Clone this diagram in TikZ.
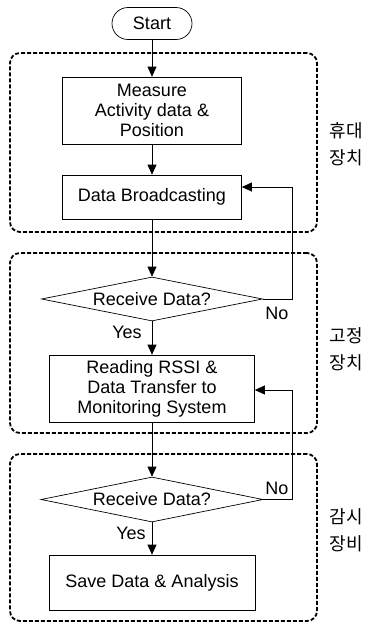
\documentclass[tikz,border=0pt]{standalone}
\usepackage{fontspec}
\setmainfont{Liberation Sans}
\newfontfamily\krfont{Noto Sans CJK KR}
\usetikzlibrary{shapes.geometric,arrows.meta}
\begin{document}
\begin{tikzpicture}[x=1pt,y=-1pt,
  font=\fontsize{18pt}{20pt}\selectfont,
  box/.style={draw, line width=0.7pt, inner sep=0pt, align=center},
  dec/.style={draw, diamond, line width=0.7pt, inner sep=0pt, aspect=5},
  grp/.style={draw, line width=1.8pt, dash pattern=on 4pt off 2pt, rounded corners=10pt, inner sep=0pt},
  arr/.style={line width=0.7pt, -{Triangle[length=10pt,width=9pt]}},
  lab/.style={inner sep=0pt},
  krlab/.style={inner sep=0pt, align=center, font=\krfont\fontsize{18pt}{27pt}\selectfont},
]
\useasboundingbox (0,0) rectangle (372,625);
% groups
\node[grp, minimum width=307pt, minimum height=179pt] (g1) at (163.5,142.5) {};
\node[grp, minimum width=307pt, minimum height=180pt] (g2) at (163.5,343) {};
\node[grp, minimum width=307pt, minimum height=167pt] (g3) at (163.5,537.5) {};
% nodes
\node[box, rounded corners=16pt, minimum width=80pt, minimum height=32pt] (start) at (152,23.5) {Start};
\node[box, minimum width=179pt, minimum height=67pt] (b1) at (152,110.5) {Measure\\Activity data \&\\Position};
\node[box, minimum width=179pt, minimum height=44pt] (b2) at (152,197) {Data Broadcasting};
\node[dec, minimum width=221pt, minimum height=44pt] (d1) at (152,299) {Receive Data?};
\node[box, minimum width=205pt, minimum height=67pt] (b3) at (152,388.5) {Reading RSSI \&\\Data Transfer to\\Monitoring System};
\node[dec, minimum width=222pt, minimum height=45pt] (d2) at (152,499.5) {Receive Data?};
\node[box, minimum width=206pt, minimum height=55pt] (b4) at (152,582.5) {Save Data \& Analysis};
% labels
\node[lab] (y1) at (127,332) {Yes};
\node[lab] (n1) at (277,313) {No};
\node[lab] (y2) at (131,533) {Yes};
\node[lab] (n2) at (277,488) {No};
\node[krlab] (k1) at (346,144) {휴대\\장치};
\node[krlab] (k2) at (346,349) {고정\\장치};
\node[krlab] (k3) at (346,530) {감시\\장비};
% connectors
\coordinate (fb1) at (292,187);
\coordinate (fb2) at (292,390);
\draw[arr] (start) -- (b1);
\draw[arr] (b1) -- (b2);
\draw[arr] (b2) -- (d1);
\draw[arr] (d1) -- (b3);
\draw[arr] (b3) -- (d2);
\draw[arr] (d2) -- (b4);
\draw[arr] (d1.east) -| (fb1) -- (fb1 -| b2.east);
\draw[arr] (d2.east) -| (fb2) -- (fb2 -| b3.east);
\end{tikzpicture}
\end{document}
